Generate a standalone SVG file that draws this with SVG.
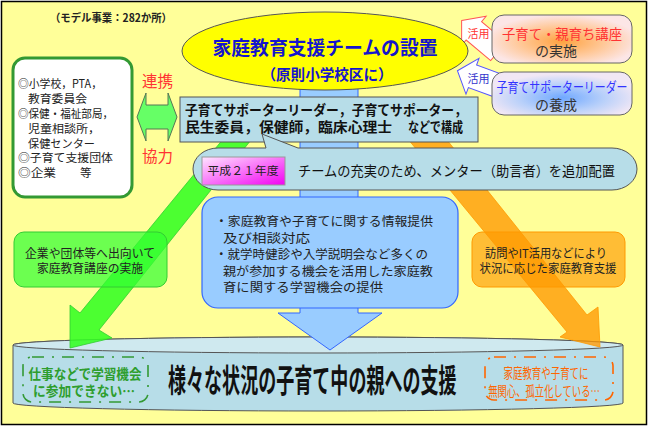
<svg xmlns="http://www.w3.org/2000/svg" width="651" height="429" viewBox="0 0 651 429">
<defs>
<style>
text{font-family:"Noto Sans CJK JP","Noto Sans CJK SC",sans-serif;}
.org{font-size:11.5px;fill:#222}
.info{font-size:12.5px;fill:#222}
.mem{font-size:13.5px;font-weight:bold;fill:#111}
.box{stroke:#555;stroke-width:1}
.lbl{font-size:12px;fill:#222;text-anchor:middle}
.rk{font-size:16px;fill:#FF3333}
.rbt{font-size:14px;text-anchor:middle}
</style>
<radialGradient id="gOr" cx="0.5" cy="0.55" r="0.55">
<stop offset="0" stop-color="#FFA23F"/><stop offset="0.55" stop-color="#FFC898"/><stop offset="1" stop-color="#FCE6E6"/>
</radialGradient>
<radialGradient id="gBl" cx="0.5" cy="0.6" r="0.55">
<stop offset="0" stop-color="#6FA8FF"/><stop offset="0.55" stop-color="#B8D0FA"/><stop offset="1" stop-color="#F1E7F5"/>
</radialGradient>
<linearGradient id="gPk" x1="0" y1="0" x2="1" y2="1">
<stop offset="0" stop-color="#FFE6FF"/><stop offset="1" stop-color="#F200F2"/>
</linearGradient>
<path id="kArrow" d="M -24,0 L -8,-19 L -8,-12 L 24,-12 L 24,12 L -8,12 L -8,19 Z"/>
</defs>

<rect x="0" y="0" width="651" height="429" fill="#FFFFFF"/>
<rect x="1.5" y="1.5" width="645" height="423" fill="#FFFF99" stroke="#000" stroke-width="1.5"/>

<text x="50" y="22" font-size="11" font-weight="bold" fill="#222" textLength="122" lengthAdjust="spacingAndGlyphs">（モデル事業：282か所）</text>

<g id="cylinder">
<path d="M 13,345 A 305 8 0 0 1 623,345 L 623,403 A 305 8 0 0 1 13,403 Z" fill="#B7DDE8" stroke="#555"/>
<ellipse cx="318" cy="345" rx="305" ry="8" fill="#CFE9EF" stroke="#555"/>
<text transform="translate(168,392) scale(0.564,1)" font-size="32" font-weight="bold" fill="#111">様々な状況の子育て中の親への支援</text>
<rect x="23" y="357" width="125" height="45" rx="9" fill="none" stroke="#339933" stroke-width="1.6" stroke-dasharray="12 8 2 8"/>
<text transform="translate(85,379) scale(0.9,1)" font-size="14" font-weight="bold" fill="#2E9E2E" text-anchor="middle">仕事などで学習機会</text>
<text transform="translate(84,396) scale(0.91,1)" font-size="14" font-weight="bold" fill="#2E9E2E" text-anchor="middle">に参加できない…</text>
<rect x="485" y="357" width="128" height="43" rx="9" fill="none" stroke="#FF6600" stroke-width="1.6" stroke-dasharray="12 8 2 8"/>
<text transform="translate(546,378) scale(0.675,1)" font-size="14" fill="#FF6600" text-anchor="middle">家庭教育や子育てに</text>
<text transform="translate(544,396) scale(0.667,1)" font-size="14" fill="#FF6600" text-anchor="middle">無関心、孤立化している…</text>
</g>

<g id="connectors">
<polygon points="247,110 275,110 99,330 112,338 70,348 70,305 80,313" fill="#33FF22" fill-opacity="0.88" stroke="#33CC33" stroke-width="0.8"/>
<polygon points="384,110 423,110 587,315 598,307 600,347 560,337 567,332" fill="#FF9900" fill-opacity="0.78" stroke="#FF9900" stroke-width="0.8"/>
<polygon points="300,80 358,80 358,313 382,313 330,350 278,313 300,313" fill="#99CCFF" stroke="#3366FF" stroke-width="1"/>
<polygon points="137,117 146,93 146,105 168,105 168,93 177,117 168,141 168,129 146,129 146,141" fill="#66FF66" stroke="#557755" stroke-width="1"/>
<use href="#kArrow" transform="translate(480,36) rotate(40)" fill="#FFFFFF" stroke="#FF5555" stroke-width="1"/>
<use href="#kArrow" transform="translate(480,79) rotate(20)" fill="#FFFFFF" stroke="#5555FF" stroke-width="1"/>
</g>

<g id="kyoryoku-labels">
<text class="rk" x="142" y="87" textLength="31" lengthAdjust="spacingAndGlyphs">連携</text>
<text class="rk" x="142" y="162" textLength="31" lengthAdjust="spacingAndGlyphs">協力</text>
</g>

<g id="katsuyo-labels">
<text x="478.5" y="38" font-size="11" fill="#FF3333" text-anchor="middle">活用</text>
<text x="478.5" y="83" font-size="11" fill="#3333CC" text-anchor="middle">活用</text>
</g>

<g id="green-box">
<rect x="14" y="232" width="153" height="55" rx="10" fill="#33FF33" fill-opacity="0.72" stroke="#33CC33"/>
<text class="lbl" x="90" y="258" textLength="130" lengthAdjust="spacingAndGlyphs">企業や団体等へ出向いて</text>
<text class="lbl" x="90" y="273" textLength="106" lengthAdjust="spacingAndGlyphs">家庭教育講座の実施</text>
</g>

<g id="orange-box">
<rect x="472" y="232" width="153" height="55" rx="10" fill="#FF9900" fill-opacity="0.65" stroke="#FF9900"/>
<text class="lbl" x="546" y="258" textLength="122" lengthAdjust="spacingAndGlyphs">訪問やIT活用などにより</text>
<text class="lbl" x="548" y="273" textLength="137" lengthAdjust="spacingAndGlyphs">状況に応じた家庭教育支援</text>
</g>

<g id="info-box">
<rect x="202" y="197" width="256" height="111" rx="16" fill="#99CCFF" stroke="#3366FF" stroke-width="1.2"/>
<text class="info" x="215" y="226" textLength="218" lengthAdjust="spacingAndGlyphs">・家庭教育や子育てに関する情報提供</text>
<text class="info" x="223" y="242.5" textLength="87" lengthAdjust="spacingAndGlyphs">及び相談対応</text>
<text class="info" x="215" y="259" textLength="213" lengthAdjust="spacingAndGlyphs">・就学時健診や入学説明会など多くの</text>
<text class="info" x="223" y="275.5" textLength="210" lengthAdjust="spacingAndGlyphs">親が参加する機会を活用した家庭教</text>
<text class="info" x="223" y="292" textLength="160" lengthAdjust="spacingAndGlyphs">育に関する学習機会の提供</text>
</g>

<g id="org-box">
<rect x="13" y="58" width="119" height="139" rx="12" fill="#FFFFFF" stroke="#339933" stroke-width="3"/>
<text class="org" x="18" y="88" textLength="84" lengthAdjust="spacingAndGlyphs">◎小学校，PTA，</text>
<text class="org" x="28" y="103" textLength="59" lengthAdjust="spacingAndGlyphs">教育委員会</text>
<text class="org" x="18" y="118" textLength="95" lengthAdjust="spacingAndGlyphs">◎保健・福祉部局，</text>
<text class="org" x="28" y="133" textLength="72" lengthAdjust="spacingAndGlyphs">児童相談所，</text>
<text class="org" x="28" y="148" textLength="67" lengthAdjust="spacingAndGlyphs">保健センター</text>
<text class="org" x="18" y="162" textLength="95" lengthAdjust="spacingAndGlyphs">◎子育て支援団体</text>
<text class="org" x="18" y="177" textLength="38" lengthAdjust="spacingAndGlyphs">◎企業</text>
<text class="org" x="80" y="177">等</text>
</g>

<g id="team-ellipse">
<ellipse cx="325" cy="51" rx="143" ry="39" fill="#FFFF00" stroke="#555"/>
<text x="325" y="55" font-size="19" font-weight="bold" fill="#1515CC" text-anchor="middle" textLength="225" lengthAdjust="spacingAndGlyphs">家庭教育支援チームの設置</text>
<text x="327" y="80" font-size="15" font-weight="bold" fill="#1515CC" text-anchor="middle" textLength="131" lengthAdjust="spacingAndGlyphs">（原則小学校区に）</text>
</g>

<g id="member-box">
<rect x="180" y="97" width="298" height="45" fill="#B7DDE8" class="box"/>
<text class="mem" x="185" y="115" textLength="282" lengthAdjust="spacingAndGlyphs">子育てサポーターリーダー，子育てサポーター，</text>
<text class="mem" x="185" y="132" textLength="207" lengthAdjust="spacingAndGlyphs">民生委員，保健師，臨床心理士</text>
<text class="mem" x="408" y="132" textLength="55" lengthAdjust="spacingAndGlyphs">などで構成</text>
</g>

<g id="mentor-bubble">
<path d="M 218,148 H 266 L 262,134 L 298,148 H 612 A 25 21 0 0 1 637,169 A 25 21 0 0 1 612,190 H 218 A 25 21 0 0 1 193,169 A 25 21 0 0 1 218,148 Z" fill="#B7DDE8" class="box"/>
<rect x="202" y="157" width="83" height="28" fill="url(#gPk)" stroke="#999" stroke-width="1"/>
<text x="243" y="175" font-size="11.5" fill="#222" text-anchor="middle" textLength="71" lengthAdjust="spacingAndGlyphs">平成２１年度</text>
<text x="298" y="176" font-size="14" fill="#111" textLength="317" lengthAdjust="spacingAndGlyphs">チームの充実のため、メンター（助言者）を追加配置</text>
</g>

<g id="course-box">
<rect x="492" y="15" width="140" height="48" rx="12" fill="url(#gOr)" stroke="#666"/>
<text class="rbt" x="562" y="39" fill="#FF3333" textLength="120" lengthAdjust="spacingAndGlyphs">子育て・親育ち講座</text>
<text class="rbt" x="556" y="56" fill="#333">の実施</text>
</g>

<g id="leader-box">
<rect x="492" y="72" width="140" height="43" rx="12" fill="url(#gBl)" stroke="#666"/>
<text class="rbt" transform="translate(562,92) scale(0.78,1)" fill="#3333FF">子育てサポーターリーダー</text>
<text class="rbt" x="556" y="110" fill="#333">の養成</text>
</g>
</svg>
